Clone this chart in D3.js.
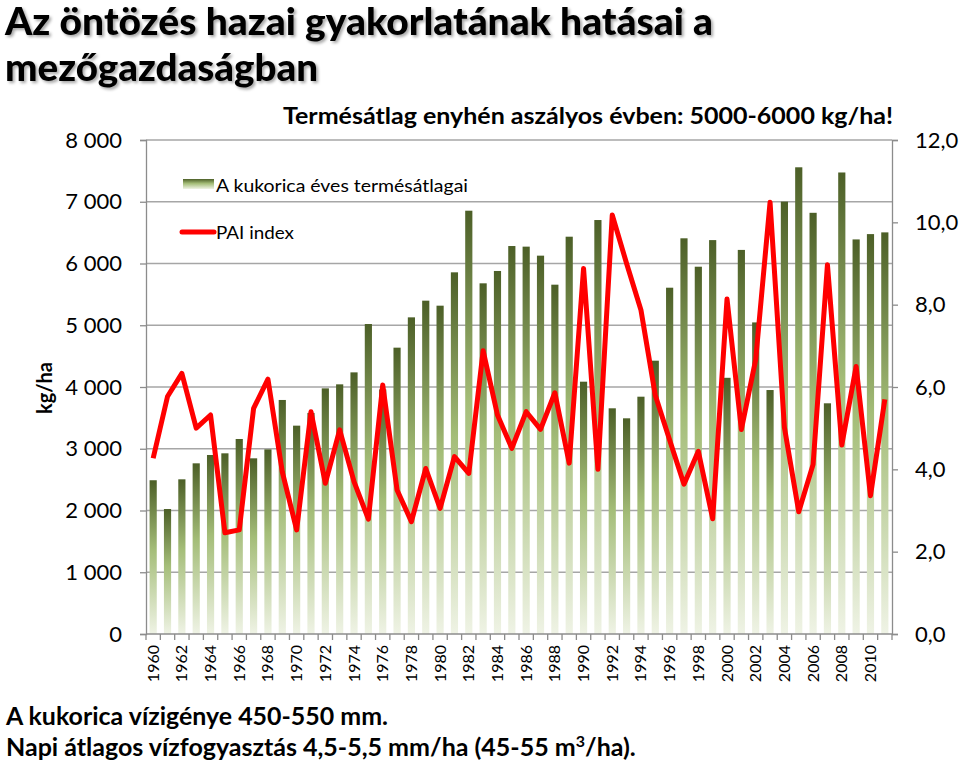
<!DOCTYPE html>
<html>
<head>
<meta charset="utf-8">
<title>Kukorica termésátlag és PAI index</title>
<script src="https://d3js.org/d3.v7.min.js"></script>
<style>
  body { margin: 0; background: #fff; }
  text { font-family: Lato, "Noto Sans", sans-serif; fill: #000; }
</style>
</head>
<body>
<svg id="chart" width="960" height="763"></svg>
<script>
// years 1960-2011
var years = d3.range(1960, 2012);
// maize yield, kg/ha
var yields = [2490, 2024, 2505, 2764, 2899, 2926, 3158, 2845, 2990, 3790,
  3374, 3580, 3978, 4043, 4237, 5020, 3960, 4637, 5128, 5398,
  5317, 5857, 6855, 5679, 5879, 6283, 6273, 6127, 5657, 6434,
  4086, 6704, 3655, 3493, 3843, 4426, 5608, 6408, 5948, 6379,
  4149, 6220, 5046, 3951, 7002, 7558, 6821, 3736, 7474, 6390,
  6476, 6504];
// PAI drought index
var pai = [4.27, 5.77, 6.33, 5.00, 5.32, 2.46, 2.53, 5.48, 6.19, 3.94,
  2.53, 5.40, 3.66, 4.96, 3.70, 2.79, 6.05, 3.50, 2.73, 4.02,
  3.05, 4.31, 3.90, 6.88, 5.32, 4.51, 5.40, 4.97, 5.86, 4.15,
  8.88, 4.00, 10.18, 9.00, 7.87, 5.80, 4.71, 3.64, 4.44, 2.80,
  8.14, 4.97, 6.67, 10.49, 5.02, 2.97, 4.12, 8.97, 4.59, 6.50,
  3.36, 5.70];
var leftTicks = [0, 1000, 2000, 3000, 4000, 5000, 6000, 7000, 8000];
var rightTicks = [0, 2, 4, 6, 8, 10, 12];
var labelYears = years.filter(function(y) { return y % 2 === 0; });

var svg = d3.select("#chart");
var plotLeft = 146, plotRight = 892, plotTop = 140, plotBottom = 634;

var x = d3.scaleBand().domain(years).range([plotLeft, plotRight]).paddingInner(0.5).paddingOuter(0.25);
var xb = d3.scaleBand().domain(years).range([plotLeft, plotRight]);
var yL = d3.scaleLinear().domain([0, 8000]).range([plotBottom, plotTop]);
var yR = d3.scaleLinear().domain([0, 12]).range([plotBottom, plotTop]);

var defs = svg.append("defs");
var grad = defs.append("linearGradient").attr("id", "barGrad")
  .attr("x1", 0).attr("y1", 0).attr("x2", 0).attr("y2", 1);
grad.append("stop").attr("offset", "0%").attr("stop-color", "#4c5f27");
grad.append("stop").attr("offset", "45%").attr("stop-color", "#a4bd78");
grad.append("stop").attr("offset", "100%").attr("stop-color", "#eff3e5");

var shadow = defs.append("filter").attr("id", "shadow")
  .attr("x", "-5%").attr("y", "-40%").attr("width", "110%").attr("height", "180%");
shadow.append("feDropShadow").attr("dx", 2).attr("dy", 2).attr("stdDeviation", 1.5)
  .attr("flood-color", "#000").attr("flood-opacity", 0.35);

// title
svg.append("text").attr("x", 5).attr("y", 35).attr("font-size", 37).attr("font-weight", 900)
  .attr("textLength", 708).attr("lengthAdjust", "spacingAndGlyphs")
  .attr("filter", "url(#shadow)")
  .text("Az öntözés hazai gyakorlatának hatásai a");
svg.append("text").attr("x", 5).attr("y", 81).attr("font-size", 37).attr("font-weight", 900)
  .attr("textLength", 313).attr("lengthAdjust", "spacingAndGlyphs")
  .attr("filter", "url(#shadow)")
  .text("mezőgazdaságban");

// subtitle
svg.append("text").attr("x", 283).attr("y", 124).attr("font-size", 23).attr("font-weight", "bold")
  .attr("textLength", 610).attr("lengthAdjust", "spacingAndGlyphs")
  .text("Termésátlag enyhén aszályos évben: 5000-6000 kg/ha!");

// gridlines
svg.append("g").selectAll("line").data(leftTicks.slice(1)).enter().append("line")
  .attr("x1", plotLeft).attr("x2", plotRight)
  .attr("y1", function(d) { return yL(d); }).attr("y2", function(d) { return yL(d); })
  .attr("stroke", "#a6a6a6").attr("stroke-width", 1.3);

// bars
svg.append("g").selectAll("rect").data(yields).enter().append("rect")
  .attr("x", function(d, i) { return x(years[i]); })
  .attr("width", x.bandwidth())
  .attr("y", function(d) { return yL(d); })
  .attr("height", function(d) { return yL(0) - yL(d); })
  .attr("fill", "url(#barGrad)");

// PAI line
var line = d3.line()
  .x(function(d, i) { return x(years[i]) + x.bandwidth() / 2; })
  .y(function(d) { return yR(d); });
svg.append("path").datum(pai).attr("d", line)
  .attr("fill", "none").attr("stroke", "#ff0000").attr("stroke-width", 5)
  .attr("stroke-linejoin", "round");

// left axis
var gL = svg.append("g").attr("transform", "translate(" + plotLeft + ",0)")
  .call(d3.axisLeft(yL).tickValues(leftTicks).tickSize(6).tickPadding(18)
    .tickFormat(function(d) { return d3.format(",")(d).replace(/,/g, " "); }));
gL.selectAll("text").attr("font-size", 22).attr("font-family", "Lato, sans-serif");

// right axis
var gR = svg.append("g").attr("transform", "translate(" + plotRight + ",0)")
  .call(d3.axisRight(yR).tickValues(rightTicks).tickSize(6).tickPadding(17)
    .tickFormat(function(d) { return d3.format(".1f")(d).replace(".", ","); }));
gR.selectAll("text").attr("font-size", 22).attr("font-family", "Lato, sans-serif");

// x axis
var gX = svg.append("g").attr("transform", "translate(0," + plotBottom + ")");
gX.append("line").attr("x1", plotLeft).attr("x2", plotRight).attr("stroke", "#8c8c8c").attr("stroke-width", 1.3);
gX.selectAll("line.tick").data(years.concat([2012])).enter().append("line")
  .attr("class", "tick")
  .attr("x1", function(d) { return d === 2012 ? plotRight : xb(d); })
  .attr("x2", function(d) { return d === 2012 ? plotRight : xb(d); })
  .attr("y1", 0).attr("y2", 6)
  .attr("stroke", "#8c8c8c").attr("stroke-width", 1.3);
gX.selectAll("text").data(labelYears).enter().append("text")
  .attr("transform", function(d) {
    return "translate(" + (x(d) + x.bandwidth() / 2 + 5.5) + ",11) rotate(-90)";
  })
  .attr("text-anchor", "end").attr("font-size", 16)
  .text(function(d) { return d; });

[gL, gR].forEach(function(g) {
  g.select(".domain").attr("stroke", "#8c8c8c").attr("stroke-width", 1.3);
  g.selectAll(".tick line").attr("stroke", "#8c8c8c").attr("stroke-width", 1.3);
  g.selectAll("text").attr("fill", "#000");
});

// y axis title
svg.append("text").attr("transform", "translate(52,388) rotate(-90)")
  .attr("text-anchor", "middle").attr("font-size", 20).attr("font-weight", "bold")
  .text("kg/ha");

// legend
svg.append("rect").attr("x", 183).attr("y", 179).attr("width", 31).attr("height", 10)
  .attr("fill", "url(#barGrad)");
svg.append("text").attr("x", 216).attr("y", 192).attr("font-size", 18)
  .attr("textLength", 252).attr("lengthAdjust", "spacingAndGlyphs")
  .text("A kukorica éves termésátlagai");
svg.append("line").attr("x1", 182).attr("x2", 214).attr("y1", 232).attr("y2", 232)
  .attr("stroke", "#ff0000").attr("stroke-width", 5).attr("stroke-linecap", "round");
svg.append("text").attr("x", 216).attr("y", 239).attr("font-size", 18)
  .attr("textLength", 78).attr("lengthAdjust", "spacingAndGlyphs")
  .text("PAI index");

// notes at bottom
svg.append("text").attr("x", 6).attr("y", 725).attr("font-size", 25).attr("font-weight", "bold")
  .attr("textLength", 382).attr("lengthAdjust", "spacingAndGlyphs")
  .text("A kukorica vízigénye 450-550 mm.");
var note = svg.append("text").attr("x", 6).attr("y", 756).attr("font-size", 25).attr("font-weight", "bold");
note.append("tspan").text("Napi átlagos vízfogyasztás 4,5-5,5 mm/ha (45-55 m");
note.append("tspan").attr("dy", -9).attr("font-size", 16).text("3");
note.append("tspan").attr("dy", 9).text("/ha).");
</script>
</body>
</html>
